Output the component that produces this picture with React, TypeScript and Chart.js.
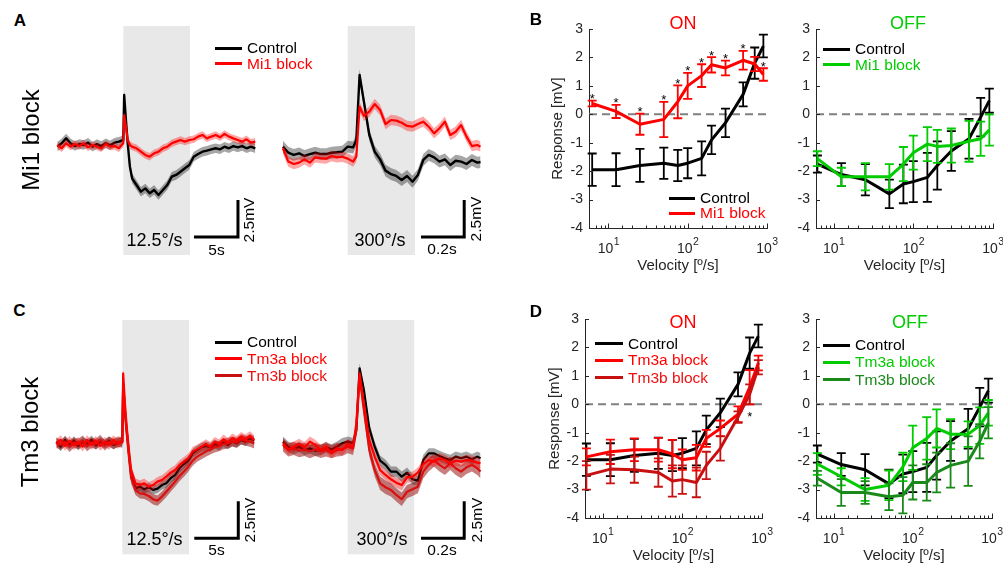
import React, { useEffect, useRef } from "react";
import { Chart, registerables } from "chart.js";

Chart.register(...registerables);

const FONT = "'Liberation Sans', Arial, Helvetica, sans-serif";
const AXIS = "#262626";
const BLACK = "#000000";
const RED = "#ff0000";
const DARKRED = "#c81010";
const GREEN = "#00cc00";
const DARKGREEN = "#1a8a1a";

// ---------- velocity tuning (panels B, D) ----------
const velocities = [6.25, 12.5, 25, 50, 75, 100, 150, 200, 300, 500, 700, 900];
const onControl = [-1.95, -1.95, -1.8, -1.72, -1.8, -1.72, -1.55, -0.9, -0.3, 0.7, 1.8, 2.4];
const onControlErr = [0.57, 0.58, 0.58, 0.55, 0.55, 0.53, 0.6, 0.5, 0.5, 0.42, 0.55, 0.4];
const onMi1 = [0.38, 0.1, -0.35, -0.18, 0.44, 1.0, 1.36, 1.74, 1.63, 1.9, 1.77, 1.4];
const onMi1Err = [0.1, 0.23, 0.37, 0.62, 0.58, 0.46, 0.4, 0.27, 0.26, 0.33, 0.25, 0.22];
const onMi1Sig = [1, 1, 1, 1, 1, 1, 1, 1, 1, 1, 0, 1];
const offControl = [-1.75, -2.12, -2.3, -2.8, -2.45, -2.37, -2.22, -1.8, -1.29, -0.86, -0.1, 0.48];
const offControlErr = [0.3, 0.4, 0.55, 0.5, 0.68, 0.72, 0.86, 0.85, 0.7, 0.7, 0.68, 0.42];
const offMi1 = [-1.56, -2.2, -2.2, -2.2, -1.75, -1.35, -1.05, -1.13, -1.1, -0.95, -0.86, -0.55];
const offMi1Err = [0.26, 0.32, 0.48, 0.45, 0.6, 0.6, 0.6, 0.58, 0.6, 0.72, 0.6, 0.55];
const onTm3a = [-1.85, -1.67, -1.6, -1.6, -1.75, -1.95, -1.88, -1.2, -0.85, -0.35, 0.6, 1.45];
const onTm3aErr = [0.3, 0.43, 0.4, 0.42, 0.5, 0.36, 0.45, 0.3, 0.28, 0.28, 0.6, 0.26];
const onTm3aSig = [0, 0, 0, 0, 0, 0, 0, 0, 0, 0, 1, 0];
const onTm3b = [-2.5, -2.28, -2.3, -2.4, -2.7, -2.65, -2.75, -2.15, -1.55, -0.45, 0.35, 1.3];
const onTm3bErr = [0.5, 0.5, 0.46, 0.5, 0.55, 0.5, 0.52, 0.48, 0.43, 0.2, 0.35, 0.25];
const offTm3a = [-2.1, -2.55, -3.0, -2.85, -2.2, -1.53, -1.2, -0.85, -1.05, -1.05, -0.75, -0.3];
const offTm3aErr = [0.38, 0.3, 0.4, 0.52, 0.5, 0.78, 0.75, 0.67, 0.53, 0.45, 0.64, 0.45];
const offTm3b = [-2.6, -3.1, -3.1, -3.25, -3.2, -2.75, -2.75, -2.4, -2.15, -2.0, -1.3, -0.65];
const offTm3bErr = [0.26, 0.47, 0.4, 0.47, 0.64, 0.6, 0.64, 0.7, 0.78, 0.87, 0.6, 0.55];
const yTickMin = -4;
const yTickMax = 3;
const velocityMax = 1000;
const decadeTicks = [10, 100, 1000];

// ---------- example traces (panels A, C) ----------
const slowTime = [-7.5, -7, -6.5, -6, -5.5, -5, -4.5, -4, -3.5, -3, -2.5, -2, -1.5, -1, -0.5, 0, 0.1, 0.3, 0.5, 0.75, 1, 1.5, 2, 2.5, 3, 3.5, 4, 4.5, 5, 5.5, 6, 6.5, 7, 7.5, 8, 8.5, 9, 9.5, 10, 10.5, 11, 11.5, 12, 12.5, 13, 13.5, 14, 14.5, 15];
const fastTime = [-0.3, -0.275, -0.25, -0.225, -0.2, -0.175, -0.15, -0.125, -0.1, -0.075, -0.05, -0.025, 0, 0.025, 0.04, 0.055, 0.075, 0.1, 0.125, 0.15, 0.175, 0.2, 0.225, 0.25, 0.275, 0.3, 0.325, 0.35, 0.375, 0.4, 0.425, 0.45, 0.475, 0.5, 0.525, 0.55, 0.575, 0.6, 0.615];

const aSlowControl = [-0.18, 0.05, 0.38, 0.05, -0.14, 0, -0.07, 0.09, -0.18, 0, -0.14, 0.05, -0.09, 0.09, 0.16, 0.27, 3.31, 1.62, 0.05, -1.53, -2.32, -2.77, -3.22, -3.0, -3.33, -3.11, -3.45, -3.11, -2.77, -2.21, -2.09, -1.87, -1.64, -1.42, -0.86, -0.68, -0.52, -0.45, -0.36, -0.29, -0.36, -0.18, -0.29, -0.14, -0.23, -0.14, -0.29, -0.18, -0.29];
const aSlowMi1 = [-0.07, -0.29, 0.05, -0.18, 0, -0.14, 0.05, -0.23, -0.07, -0.18, -0.29, 0, -0.18, -0.14, -0.29, 0.05, 1.96, 1.17, 0.27, -0.07, -0.18, -0.29, -0.52, -0.74, -0.86, -0.63, -0.52, -0.29, -0.18, 0.05, 0.16, 0.27, 0.16, 0.27, 0.32, 0.5, 0.61, 0.38, 0.5, 0.61, 0.45, 0.68, 0.5, 0.38, 0.27, 0.16, 0.32, 0.09, 0.16];
const aFastControl = [-0.18, -0.59, -0.74, -0.63, -0.81, -0.68, -0.59, -0.68, -0.68, -0.59, -0.56, -0.52, -0.18, -0.23, 0.27, 4.66, 2.86, 0.61, -0.52, -1.04, -1.8, -2.03, -2.16, -2.43, -2.16, -2.55, -2.09, -1.08, -0.74, -0.9, -1.19, -1.04, -1.42, -1.13, -1.19, -1.35, -1.08, -1.26, -1.22];
const aFastMi1 = [-0.29, -1.19, -1.35, -1.26, -1.04, -1.26, -0.9, -0.95, -0.99, -0.81, -0.9, -0.86, -0.99, -1.19, -0.86, 2.52, 1.9, 2.18, 2.7, 2.3, 1.35, 1.62, 1.58, 1.44, 1.22, 1.17, 1.35, 1.51, 1.17, 0.72, 1.06, 1.51, 0.61, 0.83, 1.28, 0.5, -0.14, -0.07, -0.18];
const cSlowControl = [0.11, -0.23, 0.23, -0.11, 0.18, -0.18, 0.11, -0.05, 0.23, -0.14, 0.11, -0.05, 0.18, -0.11, 0.05, 0.11, 4.05, 2.25, 0.9, -0.68, -2.14, -3.04, -2.93, -3.11, -2.97, -3.15, -3.06, -2.82, -2.7, -2.36, -2.14, -1.69, -1.4, -1.17, -0.68, -0.45, -0.27, -0.18, -0.27, -0.05, -0.18, 0.05, -0.11, 0.11, 0, 0.23, 0.11, 0.34, 0.18];
const cSlowTm3a = [-0.05, 0.23, -0.18, 0.18, -0.14, 0.11, -0.23, 0.23, -0.11, 0.18, -0.18, 0.11, -0.11, 0.23, -0.05, 0.18, 4.73, 2.7, 1.13, -0.45, -1.8, -2.7, -2.82, -2.7, -2.93, -2.82, -2.59, -2.48, -2.25, -1.98, -1.8, -1.46, -1.24, -1.01, -0.56, -0.41, -0.23, -0.05, -0.23, 0.11, -0.05, 0.27, 0.05, 0.34, 0.18, 0.45, 0.27, 0.5, 0.23];
const cSlowTm3b = [0.05, -0.11, 0.11, -0.23, 0.05, -0.05, 0.18, -0.18, 0.05, -0.05, 0.23, -0.14, 0.11, -0.05, 0.11, 0.05, 3.94, 2.03, 0.68, -0.9, -2.36, -3.15, -3.38, -3.42, -3.56, -3.78, -3.87, -3.6, -3.27, -2.93, -2.59, -2.21, -1.91, -1.58, -1.17, -0.9, -0.72, -0.56, -0.41, -0.27, -0.18, -0.05, 0, 0.11, 0.05, 0.27, 0.18, 0.11, 0];
const cFastControl = [0.11, -0.23, -0.41, -0.23, -0.45, -0.34, -0.5, -0.45, -0.27, -0.41, -0.23, 0, 0.11, 0, 0.9, 5.07, 3.6, 1.01, -0.23, -1.17, -1.46, -1.91, -1.91, -2.25, -1.98, -2.43, -2.52, -1.13, -0.68, -0.68, -0.86, -1.01, -1.13, -0.9, -1.01, -0.9, -1.08, -0.9, -1.01];
const cFastTm3a = [0, -0.41, -0.23, -0.05, -0.27, 0.11, -0.11, -0.45, -0.23, -0.68, -0.34, -0.45, -0.05, -0.23, 1.35, 4.73, 2.7, 0.23, -0.9, -1.8, -2.14, -2.43, -2.66, -2.82, -2.3, -2.25, -1.98, -1.4, -1.13, -1.24, -1.01, -1.13, -1.35, -1.17, -1.24, -1.13, -1.17, -1.31, -1.35];
const cFastTm3b = [-0.11, -0.45, -0.34, -0.5, -0.41, -0.56, -0.41, -0.54, -0.45, -0.56, -0.45, -0.41, -0.23, -0.34, 0.9, 4.5, 2.25, -0.45, -1.8, -2.7, -2.97, -3.15, -3.49, -3.78, -3.27, -3.11, -2.93, -1.91, -1.46, -1.13, -1.46, -1.69, -1.35, -1.69, -1.91, -1.62, -1.46, -1.69, -1.91];

// ---------- plugins ----------
const errorBars = {
  id: "errorBars",
  afterDatasetDraw(chart: any, args: any) {
    const ds = chart.data.datasets[args.index];
    if (!ds.errors) return;
    const ctx = chart.ctx;
    const xs = chart.scales.x;
    const ys = chart.scales.y;
    ctx.save();
    ctx.strokeStyle = ds.borderColor;
    ctx.lineWidth = 1.8;
    ctx.beginPath();
    ds.data.forEach((p: any, i: number) => {
      const e = ds.errors[i];
      const px = xs.getPixelForValue(p.x);
      const top = ys.getPixelForValue(p.y + e);
      const bot = ys.getPixelForValue(p.y - e);
      ctx.moveTo(px, top);
      ctx.lineTo(px, bot);
      ctx.moveTo(px - 4.5, top);
      ctx.lineTo(px + 4.5, top);
      ctx.moveTo(px - 4.5, bot);
      ctx.lineTo(px + 4.5, bot);
    });
    ctx.stroke();
    if (ds.sig) {
      ctx.fillStyle = "#000";
      ctx.font = `13px ${FONT}`;
      ctx.textAlign = "center";
      ctx.textBaseline = "alphabetic";
      ds.data.forEach((p: any, i: number) => {
        if (!ds.sig[i]) return;
        const e = ds.errors[i];
        const px = xs.getPixelForValue(p.x);
        if (ds.sigPos === "below") {
          ctx.fillText("*", px, ys.getPixelForValue(p.y - e) + 17);
        } else {
          ctx.fillText("*", px, ys.getPixelForValue(p.y + e) + 2.5);
        }
      });
    }
    ctx.restore();
  },
};

// inward MATLAB-style ticks + "10^n" labels with a real superscript
const logAxisDecor = {
  id: "logAxisDecor",
  afterDraw(chart: any) {
    const { ctx, chartArea: a } = chart;
    const xs = chart.scales.x;
    const ys = chart.scales.y;
    ctx.save();
    ctx.strokeStyle = AXIS;
    ctx.lineWidth = 1;
    ctx.beginPath();
    for (const t of ys.ticks) {
      const py = Math.round(ys.getPixelForValue(t.value)) + 0.5;
      ctx.moveTo(a.left, py);
      ctx.lineTo(a.left + 4, py);
    }
    for (const t of xs.ticks) {
      const l = Math.log10(t.value);
      const major = Math.abs(l - Math.round(l)) < 1e-6;
      const px = Math.round(xs.getPixelForValue(t.value)) + 0.5;
      ctx.moveTo(px, a.bottom);
      ctx.lineTo(px, a.bottom - (major ? 4.5 : 2.5));
    }
    ctx.stroke();
    ctx.fillStyle = AXIS;
    ctx.textBaseline = "alphabetic";
    ctx.textAlign = "left";
    for (const v of decadeTicks) {
      const px = xs.getPixelForValue(v);
      const exp = String(Math.round(Math.log10(v)));
      ctx.font = `14px ${FONT}`;
      const wBase = ctx.measureText("10").width;
      ctx.font = `10.5px ${FONT}`;
      const wExp = ctx.measureText(exp).width;
      const x0 = px - (wBase + wExp) / 2;
      const base = a.bottom + 25;
      ctx.font = `14px ${FONT}`;
      ctx.fillText("10", x0, base);
      ctx.font = `10.5px ${FONT}`;
      ctx.fillText(exp, x0 + wBase + 0.5, base - 8);
    }
    ctx.restore();
  },
};

type VSeries = { values: number[]; errors: number[]; color: string; sig?: number[]; sigPos?: string };

function velocityConfig(series: VSeries[], xMin: number, padRight: number, yWidth: number, yTitlePad: number | null) {
  const datasets: any[] = series.map((s) => ({
    data: velocities.map((v, i) => ({ x: v, y: s.values[i] })),
    borderColor: s.color,
    backgroundColor: s.color,
    borderWidth: 3,
    borderJoinStyle: "round",
    pointRadius: 0,
    tension: 0,
    fill: false,
    errors: s.errors,
    sig: s.sig,
    sigPos: s.sigPos,
  }));
  datasets.push({
    data: [{ x: xMin, y: 0 }, { x: velocityMax, y: 0 }],
    borderColor: "#808080",
    borderWidth: 2,
    borderDash: [8, 5],
    pointRadius: 0,
    fill: false,
  });
  return {
    type: "line",
    data: { datasets },
    options: {
      animation: false,
      responsive: false,
      devicePixelRatio: 1,
      layout: { padding: { left: 0, right: padRight, top: 20, bottom: 0 } },
      plugins: { legend: { display: false }, tooltip: { enabled: false } },
      scales: {
        x: {
          type: "logarithmic",
          min: xMin,
          max: velocityMax,
          grid: { display: false, drawTicks: false },
          border: { display: true, color: AXIS, width: 1 },
          ticks: { display: false, autoSkip: false },
          title: {
            display: true,
            text: "Velocity [º/s]",
            color: AXIS,
            font: { family: FONT, size: 15, lineHeight: 1.2 },
            padding: { top: 0, bottom: 4 },
          },
          afterFit: (s: any) => {
            s.height = 51;
            s.paddingLeft = 0;
            s.paddingRight = 0;
          },
        },
        y: {
          type: "linear",
          min: yTickMin,
          max: yTickMax,
          grid: { display: false, drawTicks: false },
          border: { display: true, color: AXIS, width: 1 },
          ticks: { stepSize: 1, padding: 6, color: AXIS, font: { family: FONT, size: 14 } },
          title: {
            display: yTitlePad !== null,
            text: "Response [mV]",
            color: AXIS,
            font: { family: FONT, size: 15, lineHeight: 1.2 },
            padding: { top: yTitlePad ?? 0, bottom: 0 },
          },
          afterFit: (s: any) => {
            s.width = yWidth;
            s.paddingTop = 0;
            s.paddingBottom = 0;
          },
        },
      },
    },
    plugins: [errorBars, logAxisDecor],
  };
}

type Trace = { values: number[]; sem: number; color: string; band: string; width: number };
type Decor = { stimEnd: number; boxTop: number; boxBottom: number; barStart: number; barLen: number; barV: number; barH: number };

function traceConfig(time: number[], traces: Trace[], view: number[], decor: Decor) {
  const datasets: any[] = [];
  traces.forEach((tr) => {
    datasets.push({
      data: time.map((t, i) => ({ x: t, y: tr.values[i] })),
      borderColor: tr.color,
      borderWidth: tr.width,
      borderJoinStyle: "round",
      pointRadius: 0,
      tension: 0,
      fill: false,
    });
    datasets.push({
      data: time.map((t, i) => ({ x: t, y: tr.values[i] + tr.sem })),
      borderColor: "rgba(0,0,0,0)",
      borderWidth: 0,
      backgroundColor: tr.band,
      pointRadius: 0,
      tension: 0,
      fill: "+1",
    });
    datasets.push({
      data: time.map((t, i) => ({ x: t, y: tr.values[i] - tr.sem })),
      borderColor: "rgba(0,0,0,0)",
      borderWidth: 0,
      pointRadius: 0,
      tension: 0,
      fill: false,
    });
  });
  const decorPlugin = {
    id: "traceDecor",
    beforeDatasetsDraw(chart: any) {
      const { ctx } = chart;
      const xs = chart.scales.x;
      const ys = chart.scales.y;
      const x0 = xs.getPixelForValue(0);
      const x1 = xs.getPixelForValue(decor.stimEnd);
      const y0 = ys.getPixelForValue(decor.boxTop);
      const y1 = ys.getPixelForValue(decor.boxBottom);
      ctx.save();
      ctx.fillStyle = "#e8e8e8";
      ctx.fillRect(x0, y0, x1 - x0, y1 - y0);
      ctx.restore();
    },
    afterDatasetsDraw(chart: any) {
      const { ctx } = chart;
      const xs = chart.scales.x;
      const ys = chart.scales.y;
      const xa = xs.getPixelForValue(decor.barStart);
      const xb = xs.getPixelForValue(decor.barStart + decor.barLen);
      const ya = ys.getPixelForValue(decor.barV);
      const yb = ys.getPixelForValue(decor.barV + decor.barH);
      ctx.save();
      ctx.strokeStyle = "#000";
      ctx.lineWidth = 3;
      ctx.lineJoin = "miter";
      ctx.beginPath();
      ctx.moveTo(xa, ya);
      ctx.lineTo(xb, ya);
      ctx.lineTo(xb, yb);
      ctx.stroke();
      ctx.restore();
    },
  };
  return {
    type: "line",
    data: { datasets },
    options: {
      animation: false,
      responsive: false,
      devicePixelRatio: 1,
      layout: { padding: 0 },
      plugins: { legend: { display: false }, tooltip: { enabled: false } },
      scales: {
        x: { type: "linear", display: false, min: view[0], max: view[1] },
        y: { type: "linear", display: false, min: view[2], max: view[3] },
      },
    },
    plugins: [decorPlugin],
  };
}

function ChartBox({ left, top, width, height, make }: any) {
  const ref = useRef<HTMLCanvasElement>(null);
  useEffect(() => {
    const chart = new Chart(ref.current as HTMLCanvasElement, make());
    return () => chart.destroy();
  }, []);
  return (
    <canvas
      ref={ref}
      width={width}
      height={height}
      style={{ position: "absolute", left, top, width, height, display: "block" }}
    />
  );
}

function T({ x, y, children, size = 15, color = "#000", weight = 400, rotate = 0, align = "center" }: any) {
  const tx = align === "center" ? "-50%" : align === "left" ? "0%" : "-100%";
  return (
    <div
      style={{
        position: "absolute",
        left: x,
        top: y,
        transform: `translate(${tx}, -50%) rotate(${rotate}deg)`,
        fontSize: size,
        color,
        fontWeight: weight,
        lineHeight: 1,
        whiteSpace: "nowrap",
        fontFamily: FONT,
      }}
    >
      {children}
    </div>
  );
}

function Legend({ x0, x1, tx, items, size = 15.5 }: any) {
  return (
    <>
      {items.map((it: any, i: number) => (
        <React.Fragment key={i}>
          <div style={{ position: "absolute", left: x0, top: it.y - 1.5, width: x1 - x0, height: 3, background: it.color }} />
          <T x={tx} y={it.y} align="left" size={size} color={it.text}>
            {it.label}
          </T>
        </React.Fragment>
      ))}
    </>
  );
}

export default function App() {
  const slowViewA = [-9.466, 16.102, -8.176, 8.716];
  const fastViewA = [-0.369, 0.7144, -8.176, 8.716];
  const slowViewC = [-9.352, 16.216, -8.088, 9.345];
  const fastViewC = [-0.369, 0.7144, -8.088, 9.345];
  const grayBand = "rgba(0,0,0,0.35)";
  const redBand = "rgba(255,0,0,0.35)";
  const darkRedBand = "rgba(150,0,0,0.5)";

  return (
    <div
      style={{
        position: "fixed",
        left: 0,
        top: 0,
        width: 1003,
        height: 568,
        background: "#fff",
        overflow: "hidden",
        fontFamily: FONT,
      }}
    >
      {/* Panel A */}
      <ChartBox
        left={40}
        top={15}
        width={225}
        height={250}
        make={() =>
          traceConfig(
            slowTime,
            [
              { values: aSlowMi1, sem: 0.25, color: RED, band: redBand, width: 2.2 },
              { values: aSlowControl, sem: 0.32, color: BLACK, band: grayBand, width: 2.4 },
            ],
            slowViewA,
            { stimEnd: 7.58, boxTop: 7.973, boxBottom: -7.5, barStart: 8.03, barLen: 5, barV: -6.28, barH: 2.5 }
          )
        }
      />
      <ChartBox
        left={268}
        top={15}
        width={234}
        height={250}
        make={() =>
          traceConfig(
            fastTime,
            [
              { values: aFastMi1, sem: 0.35, color: RED, band: redBand, width: 2.2 },
              { values: aFastControl, sem: 0.4, color: BLACK, band: grayBand, width: 2.4 },
            ],
            fastViewA,
            { stimEnd: 0.3116, boxTop: 7.973, boxBottom: -7.5, barStart: 0.3394, barLen: 0.2, barV: -6.28, barH: 2.5 }
          )
        }
      />
      {/* Panel C */}
      <ChartBox
        left={40}
        top={305}
        width={225}
        height={258}
        make={() =>
          traceConfig(
            slowTime,
            [
              { values: cSlowTm3a, sem: 0.32, color: RED, band: redBand, width: 2.2 },
              { values: cSlowTm3b, sem: 0.35, color: "#d81010", band: darkRedBand, width: 2.2 },
              { values: cSlowControl, sem: 0.3, color: BLACK, band: grayBand, width: 2.2 },
            ],
            slowViewC,
            { stimEnd: 7.58, boxTop: 8.331, boxBottom: -7.5, barStart: 8.18, barLen: 5, barV: -6.42, barH: 2.5 }
          )
        }
      />
      <ChartBox
        left={268}
        top={305}
        width={234}
        height={258}
        make={() =>
          traceConfig(
            fastTime,
            [
              { values: cFastTm3a, sem: 0.35, color: RED, band: redBand, width: 2.2 },
              { values: cFastTm3b, sem: 0.45, color: "#d81010", band: darkRedBand, width: 2.2 },
              { values: cFastControl, sem: 0.35, color: BLACK, band: grayBand, width: 2.2 },
            ],
            fastViewC,
            { stimEnd: 0.308, boxTop: 8.331, boxBottom: -7.5, barStart: 0.3394, barLen: 0.2, barV: -6.42, barH: 2.5 }
          )
        }
      />

      {/* Panel B */}
      <ChartBox
        left={525}
        top={9}
        width={258}
        height={270}
        make={() =>
          velocityConfig(
            [
              { values: onMi1, errors: onMi1Err, color: RED, sig: onMi1Sig, sigPos: "above" },
              { values: onControl, errors: onControlErr, color: BLACK },
            ],
            5.7,
            16,
            64,
            24
          )
        }
      />
      <ChartBox
        left={770}
        top={9}
        width={233}
        height={270}
        make={() =>
          velocityConfig(
            [
              { values: offMi1, errors: offMi1Err, color: GREEN },
              { values: offControl, errors: offControlErr, color: BLACK },
            ],
            6,
            10,
            46,
            null
          )
        }
      />
      {/* Panel D */}
      <ChartBox
        left={525}
        top={299}
        width={258}
        height={270}
        make={() =>
          velocityConfig(
            [
              { values: onTm3b, errors: onTm3bErr, color: DARKRED },
              { values: onTm3a, errors: onTm3aErr, color: RED, sig: onTm3aSig, sigPos: "below" },
              { values: onControl, errors: onControlErr, color: BLACK },
            ],
            6,
            21,
            60,
            21
          )
        }
      />
      <ChartBox
        left={770}
        top={299}
        width={233}
        height={270}
        make={() =>
          velocityConfig(
            [
              { values: offTm3b, errors: offTm3bErr, color: DARKGREEN },
              { values: offTm3a, errors: offTm3aErr, color: GREEN },
              { values: offControl, errors: offControlErr, color: BLACK },
            ],
            6,
            11,
            46,
            null
          )
        }
      />

      {/* panel letters and row labels */}
      <T x={20} y={20} size={17} weight={700}>A</T>
      <T x={536} y={18.5} size={17} weight={700}>B</T>
      <T x={19.5} y={310} size={17} weight={700}>C</T>
      <T x={536} y={311} size={17} weight={700}>D</T>
      <T x={31} y={140} size={24} rotate={-90}>Mi1 block</T>
      <T x={30} y={432} size={24} rotate={-90}>Tm3 block</T>

      {/* trace annotations */}
      <T x={154.5} y={240} size={18}>12.5°/s</T>
      <T x={380} y={240} size={18}>300°/s</T>
      <T x={216.5} y={250} size={15.5}>5s</T>
      <T x={442} y={249} size={15.5}>0.2s</T>
      <T x={248.5} y={220} size={15.5} rotate={-90}>2.5mV</T>
      <T x={476} y={219} size={15.5} rotate={-90}>2.5mV</T>
      <T x={154.5} y={538.5} size={18}>12.5°/s</T>
      <T x={382} y={538.5} size={18}>300°/s</T>
      <T x={216.5} y={550} size={15.5}>5s</T>
      <T x={442} y={550} size={15.5}>0.2s</T>
      <T x={249.5} y={520} size={15.5} rotate={-90}>2.5mV</T>
      <T x={476.5} y={520} size={15.5} rotate={-90}>2.5mV</T>

      {/* legends of trace panels */}
      <Legend
        x0={215}
        x1={242}
        tx={247}
        items={[
          { y: 48, color: BLACK, text: "#000", label: "Control" },
          { y: 63.5, color: RED, text: RED, label: "Mi1 block" },
        ]}
      />
      <Legend
        x0={215}
        x1={242}
        tx={247}
        items={[
          { y: 342, color: BLACK, text: "#000", label: "Control" },
          { y: 358.5, color: RED, text: RED, label: "Tm3a block" },
          { y: 375.5, color: DARKRED, text: "#ee1010", label: "Tm3b block" },
        ]}
      />

      {/* titles and legends of tuning panels */}
      <T x={683} y={23} size={18} color={RED}>ON</T>
      <T x={908} y={23} size={18} color={GREEN}>OFF</T>
      <T x={683} y={322} size={18} color={RED}>ON</T>
      <T x={910} y={322} size={18} color={GREEN}>OFF</T>
      <Legend
        x0={669}
        x1={695}
        tx={700}
        items={[
          { y: 198, color: BLACK, text: "#000", label: "Control" },
          { y: 213, color: RED, text: RED, label: "Mi1 block" },
        ]}
      />
      <Legend
        x0={823}
        x1={850}
        tx={855}
        items={[
          { y: 49, color: BLACK, text: "#000", label: "Control" },
          { y: 64.5, color: GREEN, text: GREEN, label: "Mi1 block" },
        ]}
      />
      <Legend
        x0={595}
        x1={623}
        tx={628}
        items={[
          { y: 343.5, color: BLACK, text: "#000", label: "Control" },
          { y: 360, color: RED, text: RED, label: "Tm3a block" },
          { y: 377.5, color: DARKRED, text: "#ee1010", label: "Tm3b block" },
        ]}
      />
      <Legend
        x0={823}
        x1={850}
        tx={855}
        items={[
          { y: 345, color: BLACK, text: "#000", label: "Control" },
          { y: 362, color: GREEN, text: GREEN, label: "Tm3a block" },
          { y: 379.5, color: DARKGREEN, text: DARKGREEN, label: "Tm3b block" },
        ]}
      />
    </div>
  );
}
